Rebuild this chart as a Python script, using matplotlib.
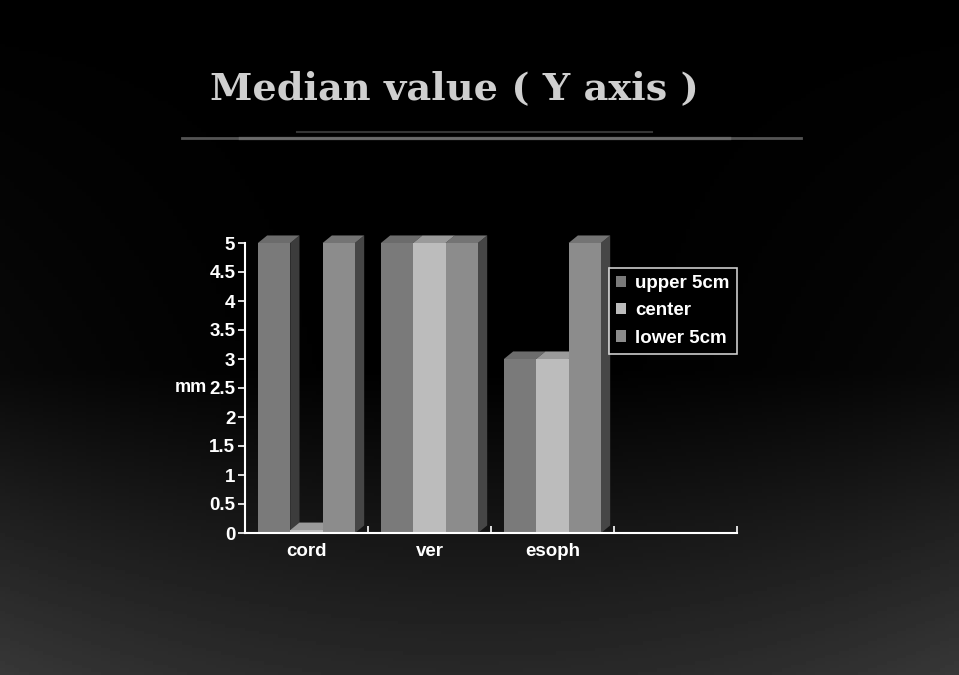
import numpy as np
import matplotlib
matplotlib.use('Agg')
import matplotlib.pyplot as plt
from matplotlib.patches import Patch

# Data
categories = ['cord', 'ver', 'esoph', '']
series = ['upper 5cm', 'center', 'lower 5cm']
upper_5cm = [5, 5, 3, 0]
center = [0.05, 5, 3, 0]
lower_5cm = [5, 5, 5, 0]
values = [upper_5cm, center, lower_5cm]
yticks = np.arange(0, 5.01, 0.5)

front_colors = ['#7a7a7a', '#bcbcbc', '#8c8c8c']
side_colors = ['#3c3c3c', '#5e5e5e', '#464646']
top_colors = ['#6c6c6c', '#9a9a9a', '#747474']

fig = plt.figure(figsize=(9.59, 6.75), dpi=100)
fig.patch.set_facecolor('black')

# faint scan-like shading of the slide background
bg = fig.add_axes([0, 0, 1, 1], zorder=-10)
yy = np.linspace(0, 1, 200)[:, None]
xx = np.linspace(-1, 1, 200)[None, :]
shade = np.clip((yy - 0.55) * 0.35, 0, None) + 0.06 * xx ** 2 * yy
bg.imshow(shade, cmap='gray', vmin=0, vmax=1, aspect='auto', extent=[0, 1, 0, 1], origin='upper')
bg.axis('off')

# title and the rule under it
fig.text(0.474, 0.868, 'Median value ( Y axis )', color='#cfcfcf', fontsize=27.5,
         fontweight='bold', family='DejaVu Serif', ha='center', va='center')
for x0, x1, yv, a, lw in [(0.19, 0.835, 0.795, 0.55, 2.0), (0.31, 0.68, 0.805, 0.35, 1.5),
                          (0.25, 0.76, 0.795, 0.35, 2.5)]:
    fig.add_artist(plt.Line2D([x0, x1], [yv, yv], color='#9a9a9a', alpha=a, lw=lw))

ax = fig.add_axes([245 / 959, (675 - 533) / 675, (737 - 245) / 959, 290 / 675])
ax.set_facecolor('none')

n = len(categories)
w = 0.263
dx, dy = 0.075, 0.13
xs = np.arange(n)
for ci in range(n):
    for si in range(3):
        h = values[si][ci]
        if h <= 0:
            continue
        x0 = xs[ci] + 0.105 + si * w
        ax.fill([x0 + w, x0 + w + dx, x0 + w + dx, x0 + w], [0, dy, h + dy, h],
                color=side_colors[si], clip_on=False, zorder=2 + ci * 3 + si, lw=0)
        ax.fill([x0, x0 + dx, x0 + w + dx, x0 + w], [h, h + dy, h + dy, h],
                color=top_colors[si], clip_on=False, zorder=2 + ci * 3 + si, lw=0)
        ax.bar(x0, h, width=w, align='edge', color=front_colors[si],
               zorder=2 + ci * 3 + si, lw=0)

ax.set_xlim(0, n)
ax.set_ylim(0, 5)
ax.set_yticks(yticks)
ax.set_yticklabels([f'{t:g}' for t in yticks])
ax.set_xticks(range(n + 1))
ax.set_xticklabels([])
for ci, c in enumerate(categories):
    ax.text(ci + 0.5, -0.18, c, color='white', fontsize=13.5, fontweight='bold',
            family='Liberation Sans', ha='center', va='top')
ax.text(-0.31, 2.5, 'mm', color='white', fontsize=13, fontweight='bold',
        family='Liberation Sans', ha='right', va='center')

for s in ['top', 'right']:
    ax.spines[s].set_visible(False)
for s in ['left', 'bottom']:
    ax.spines[s].set_color('white')
    ax.spines[s].set_linewidth(1.5)
    ax.spines[s].set_zorder(50)
ax.tick_params(axis='y', colors='white', direction='out', length=5, width=1.2, pad=2,
               labelsize=13.5)
ax.tick_params(axis='x', colors='white', direction='in', length=5, width=1.2)
for lab in ax.get_yticklabels():
    lab.set_fontweight('bold')
    lab.set_family('Liberation Sans')

handles = [Patch(facecolor=front_colors[i], edgecolor='none', label=series[i]) for i in range(3)]
leg = ax.legend(handles=handles, loc='upper left', bbox_to_anchor=(0.739, 0.915),
                frameon=True, fancybox=False, facecolor='black', edgecolor='white',
                handlelength=0.55, handleheight=0.55, handletextpad=0.45,
                borderpad=0.4, labelspacing=0.55, borderaxespad=0,
                prop={'family': 'Liberation Sans', 'weight': 'bold', 'size': 13.5})
leg.get_frame().set_linewidth(1.2)
for t in leg.get_texts():
    t.set_color('white')
leg.set_zorder(60)

fig.savefig('out.png', dpi=100, facecolor=fig.get_facecolor())
